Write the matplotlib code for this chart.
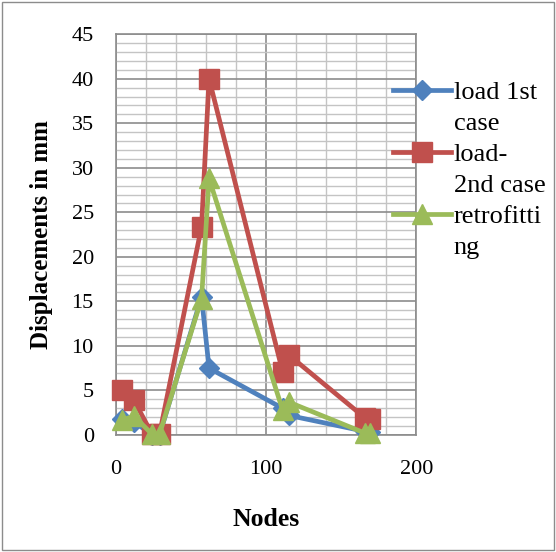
import numpy as np
import matplotlib
matplotlib.use("Agg")
import matplotlib.pyplot as plt
from matplotlib.lines import Line2D
from matplotlib.patches import Rectangle

plt.rcParams["font.family"] = ["Liberation Serif", "DejaVu Serif"]

# ---------------------------------------------------------------- data
nodes = [4, 12, 24, 29, 57, 62, 111, 115, 166, 169]
load_1st = [1.8, 1.5, 0.0, 0.0, 15.5, 7.5, 3.0, 2.2, 0.4, 0.3]
load_2nd = [5.1, 3.9, 0.1, 0.1, 23.4, 40.0, 7.1, 9.0, 1.9, 1.8]
retrofit = [1.7, 2.1, 0.1, 0.1, 15.3, 28.8, 2.8, 3.7, 0.2, 0.2]

# legend labels, wrapped the way the original chart wraps them
label_lines = [["load 1st", "case"], ["load-", "2nd case"], ["retrofitti", "ng"]]
colors = ["#4F81BD", "#C0504D", "#9BBB59"]
markers = ["D", "s", "^"]
msizes = [10, 14, 14]

fig = plt.figure(figsize=(5.56, 5.52), dpi=100)
ax = fig.add_axes([0.2086, 0.212, 0.54, 0.726])

handles, texts = [], []
for ys, lines, c, m, ms in zip([load_1st, load_2nd, retrofit], label_lines,
                               colors, markers, msizes):
    h, = ax.plot(nodes, ys, color=c, marker=m, markersize=ms, linewidth=3.4,
                 clip_on=False, zorder=3)
    handles += [h, Line2D([], [], color="none")]
    texts += lines

ax.set_xlim(0, 200)
ax.set_ylim(0, 45)
ax.set_xticks([0, 100, 200])
ax.set_yticks(np.arange(0, 46, 5))
ax.set_xticks(np.arange(0, 201, 20), minor=True)
ax.set_yticks(np.arange(0, 46, 1), minor=True)
ax.grid(True, which="major", color="#8c8c8c", linewidth=1.2, zorder=0)
ax.grid(True, which="minor", color="#c4c4c4", linewidth=1.0, zorder=0)
ax.set_axisbelow(True)
for s in ax.spines.values():
    s.set_color("#8c8c8c")
    s.set_linewidth(1.2)
ax.tick_params(which="both", length=0, labelsize=16)
ax.tick_params(axis="y", pad=16)
ax.tick_params(axis="x", pad=18)

ax.set_xlabel("Nodes", fontsize=18.5, fontweight="bold", labelpad=21)
ax.set_ylabel("Displacements in mm", fontsize=18, fontweight="bold", labelpad=13)

fig.legend(handles, texts, loc="upper left", bbox_to_anchor=(393 / 556, 1 - 81 / 552),
           frameon=False, fontsize=19, handlelength=2.2, handletextpad=0.1,
           labelspacing=0.28, borderaxespad=0, borderpad=0)

fig.patches.append(Rectangle((0.003, 0.003), 0.994, 0.994, transform=fig.transFigure,
                             fill=False, edgecolor="#8c8c8c", linewidth=1.0))

fig.savefig("out.png", dpi=100)
